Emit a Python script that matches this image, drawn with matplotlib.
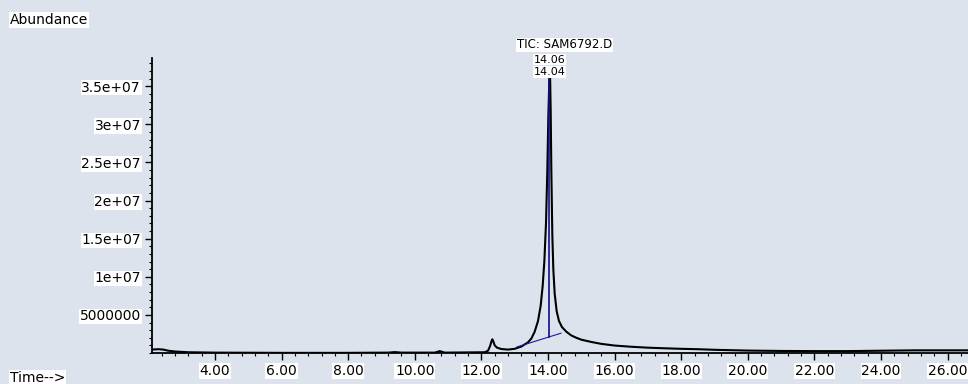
import numpy as np
import matplotlib.pyplot as plt
from matplotlib.ticker import MultipleLocator

# Chromatogram (time in min, abundance in 1e6 counts)
time_min = [2.10, 2.30, 2.45, 2.60, 2.80, 3.20, 4.00, 6.00, 8.00, 9.20, 9.40, 9.60,
            10.60, 10.75, 10.90, 12.10, 12.20, 12.26, 12.30, 12.33, 12.36, 12.40,
            12.47, 12.60, 12.80, 13.00, 13.20, 13.40, 13.50, 13.60, 13.70, 13.78,
            13.84, 13.89, 13.94, 13.98, 14.01, 14.04, 14.06, 14.08, 14.10, 14.13,
            14.16, 14.20, 14.26, 14.33, 14.42, 14.55, 14.70, 14.85, 15.00, 15.30,
            15.60, 16.00, 16.50, 17.00, 17.50, 18.00, 18.50, 19.00, 20.00, 21.00,
            22.00, 23.00, 24.00, 25.00, 26.00, 26.70]
abund_1e6 = [0.45, 0.50, 0.45, 0.30, 0.20, 0.10, 0.05, 0.02, 0.02, 0.05, 0.12, 0.05,
             0.05, 0.25, 0.05, 0.10, 0.30, 0.90, 1.50, 1.80, 1.50, 1.00,
             0.70, 0.52, 0.45, 0.55, 0.85, 1.40, 1.90, 2.80, 4.20, 6.20,
             8.80, 12.0, 17.0, 24.0, 31.0, 36.0, 37.0, 32.0, 24.0, 15.5,
             11.0, 7.8, 5.5, 4.2, 3.4, 2.8, 2.3, 2.0, 1.75, 1.45,
             1.20, 0.98, 0.82, 0.70, 0.62, 0.55, 0.50, 0.42, 0.32, 0.27,
             0.25, 0.25, 0.30, 0.35, 0.35, 0.35]

# integration of the main peak
base_t = [13.07, 14.39]
base_y = [0.8e6, 2.6e6]
rt_label = 14.04
rt_top = 37.0e6

y_ticks = [5e6, 1e7, 1.5e7, 2e7, 2.5e7, 3e7, 3.5e7]
y_tick_labels = ['5000000', '1e+07', '1.5e+07', '2e+07', '2.5e+07', '3e+07', '3.5e+07']
x_ticks = [4, 6, 8, 10, 12, 14, 16, 18, 20, 22, 24, 26]

bg = '#dce3ed'
font = 'DejaVu Sans'
fs = 10
box = dict(facecolor='white', edgecolor='none', pad=0.5)

t = np.array(time_min)
a = np.array(abund_1e6) * 1e6

fig = plt.figure(figsize=(9.68, 3.84), dpi=100, facecolor=bg)
ax = fig.add_axes([0.157, 0.0807, 0.843, 0.768])
ax.set_facecolor(bg)

ax.plot(t, a, color='black', linewidth=1.5)
ax.plot(base_t, base_y, color='#1a1aa0', linewidth=0.8)
y_at = np.interp(rt_label, base_t, base_y)
ax.plot([rt_label, rt_label], [y_at, rt_top], color='#10108a', linewidth=1.2)

ax.set_xlim(2.11, 26.61)
ax.set_ylim(0, 3.87e7)

for s in ['top', 'right']:
    ax.spines[s].set_visible(False)
for s in ['left', 'bottom']:
    ax.spines[s].set_linewidth(1.3)

ax.set_xticks(x_ticks)
ax.set_xticklabels([f'{v:.2f}' for v in x_ticks])
ax.xaxis.set_minor_locator(MultipleLocator(0.4))
ax.set_yticks(y_ticks)
ax.set_yticklabels(y_tick_labels)
ax.yaxis.set_minor_locator(MultipleLocator(1e6))
ax.tick_params(which='major', length=5, width=1, colors='black', pad=3)
ax.tick_params(which='minor', length=2.5, width=0.8)
for lab in ax.get_xticklabels() + ax.get_yticklabels():
    lab.set_fontfamily(font)
    lab.set_fontsize(fs)
    lab.set_bbox(box)

fig.text(0.010, 0.948, 'Abundance', fontsize=fs, family=font, bbox=box, va='center')
fig.text(0.010, 0.016, 'Time-->', fontsize=fs, family=font, bbox=box, va='center')

# peak labels stacked above the apex
anchor = (rt_label, 3.62e7)
ax.annotate('14.04', xy=anchor, xytext=(0, 0), textcoords='offset points',
            fontsize=8, family=font, bbox=box, ha='center', va='bottom',
            annotation_clip=False)
ax.annotate('14.06', xy=anchor, xytext=(0, 9), textcoords='offset points',
            fontsize=8, family=font, bbox=box, ha='center', va='bottom',
            annotation_clip=False)
ax.annotate('TIC: SAM6792.D', xy=anchor, xytext=(11, 18.5), textcoords='offset points',
            fontsize=8.5, family=font, bbox=box, ha='center', va='bottom',
            annotation_clip=False)

fig.savefig('out.png', dpi=100, facecolor=bg)
